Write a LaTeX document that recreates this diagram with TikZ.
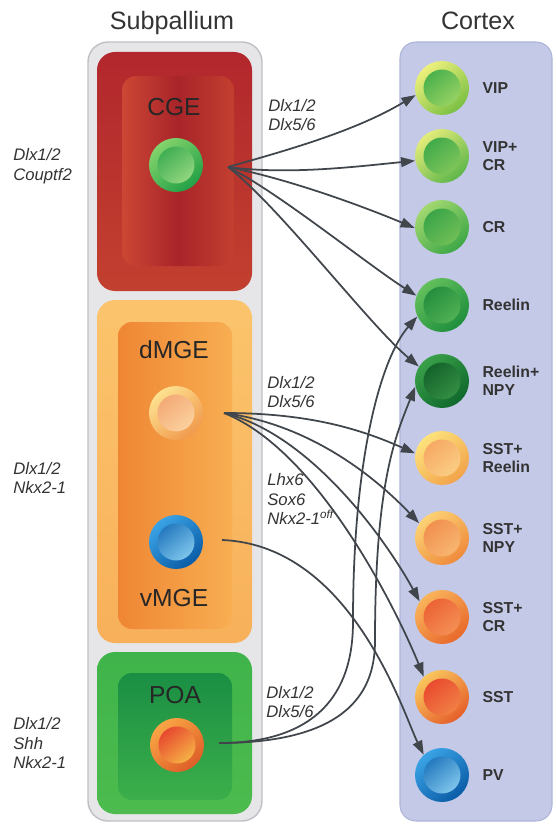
\documentclass[tikz,border=0pt]{standalone}
\usepackage{fontspec}
\setmainfont{Liberation Sans}
\usetikzlibrary{arrows.meta, positioning, calc}
% boxes
\definecolor{subGrayF}{HTML}{E6E6E8}
\definecolor{subGrayS}{HTML}{BFC0C4}
\definecolor{ctxBlueF}{HTML}{C4C9E7}
\definecolor{ctxBlueS}{HTML}{AEB4D9}
\definecolor{cgeRedA}{HTML}{B2272D}
\definecolor{cgeRedB}{HTML}{C2402F}
\definecolor{cgeRedC}{HTML}{CC4733}
\definecolor{cgeRedD}{HTML}{A8242A}
\definecolor{mgeOrgA}{HTML}{FBC46C}
\definecolor{mgeOrgB}{HTML}{F8B05A}
\definecolor{mgeOrgC}{HTML}{EF8634}
\definecolor{mgeOrgD}{HTML}{F8AE52}
\definecolor{poaGrnA}{HTML}{3FB44A}
\definecolor{poaGrnB}{HTML}{4DBB4E}
\definecolor{poaGrnC}{HTML}{1A8E43}
\definecolor{poaGrnD}{HTML}{3CAF4B}
\definecolor{arrowGray}{HTML}{41464C}
\definecolor{txtGray}{HTML}{333333}
% cells: rim light, rim dark, core dark, core light
\definecolor{vipA}{HTML}{EEF07C}\definecolor{vipB}{HTML}{79C043}
\definecolor{vipC}{HTML}{3BAA48}\definecolor{vipD}{HTML}{A8D968}
\definecolor{vcrA}{HTML}{E4EC7A}\definecolor{vcrB}{HTML}{5DB649}
\definecolor{vcrC}{HTML}{34A446}\definecolor{vcrD}{HTML}{8DCC5E}
\definecolor{crA}{HTML}{A3D870}\definecolor{crB}{HTML}{3CA746}
\definecolor{crC}{HTML}{2F9F45}\definecolor{crD}{HTML}{7CC55A}
\definecolor{relA}{HTML}{63C05C}\definecolor{relB}{HTML}{1E8E3C}
\definecolor{relC}{HTML}{1B8739}\definecolor{relD}{HTML}{5BB859}
\definecolor{rnpA}{HTML}{39A049}\definecolor{rnpB}{HTML}{0F682C}
\definecolor{rnpC}{HTML}{0D5A26}\definecolor{rnpD}{HTML}{3B9848}
\definecolor{srlA}{HTML}{FDE27C}\definecolor{srlB}{HTML}{F2A24A}
\definecolor{srlC}{HTML}{F5A25E}\definecolor{srlD}{HTML}{FCD48A}
\definecolor{snpA}{HTML}{FCD274}\definecolor{snpB}{HTML}{EF8A3B}
\definecolor{snpC}{HTML}{F08848}\definecolor{snpD}{HTML}{F9BE78}
\definecolor{scrA}{HTML}{F9B45A}\definecolor{scrB}{HTML}{E8682B}
\definecolor{scrC}{HTML}{EA5A2F}\definecolor{scrD}{HTML}{F6985A}
\definecolor{sstA}{HTML}{F9C65C}\definecolor{sstB}{HTML}{E65E2B}
\definecolor{sstC}{HTML}{E73F2A}\definecolor{sstD}{HTML}{F38C4A}
\definecolor{pvA}{HTML}{3AA3E6}\definecolor{pvB}{HTML}{0A5CA6}
\definecolor{pvC}{HTML}{1169B5}\definecolor{pvD}{HTML}{92D6F6}
\definecolor{cgeA}{HTML}{84D36C}\definecolor{cgeB}{HTML}{22A046}
\definecolor{cgeC}{HTML}{2FA54A}\definecolor{cgeD}{HTML}{A3DF88}
\definecolor{dmgA}{HTML}{FDE190}\definecolor{dmgB}{HTML}{F1994C}
\definecolor{dmgC}{HTML}{F2A26E}\definecolor{dmgD}{HTML}{FDD9A6}
\definecolor{poaA}{HTML}{F9A544}\definecolor{poaB}{HTML}{DE5E28}
\definecolor{poaC}{HTML}{E4312A}\definecolor{poaD}{HTML}{F9C94A}
\tikzset{
  >={Triangle[length=8pt, width=5.6pt]},
  flow/.style={->, line width=1pt, draw=arrowGray},
  cell/.style n args={4}{circle, inner sep=0pt, minimum size=1.08cm,
    top color=#1, bottom color=#2, shading angle=40,
    path picture={\shade[top color=#3, bottom color=#4, shading angle=40]
      (path picture bounding box.center) circle (0.37cm);}},
  celltxt/.style={right=0.14cm of #1, align=left, text=txtGray,
    font=\bfseries\fontsize{9}{10.5}\selectfont},
  gene/.style={anchor=west, align=left, inner sep=0pt, text=txtGray,
    font=\itshape\fontsize{9.5}{11.3}\selectfont},
  region/.style={font=\fontsize{14}{16}\selectfont, text=black!85},
  title/.style={anchor=base, font=\fontsize{14.3}{16}\selectfont, text=txtGray},
}
\begin{document}
\begin{tikzpicture}[x=0.02cm, y=-0.02cm]
  \useasboundingbox (0,0) rectangle (555,824);

  % ---- Boxes -------------------------------------------------------------
  \filldraw[rounded corners=0.4cm, fill=subGrayF, draw=subGrayS, line width=0.8pt]
    (88,42) rectangle (262,821);
  \filldraw[rounded corners=0.32cm, fill=ctxBlueF, draw=ctxBlueS, line width=0.6pt]
    (400,42) rectangle (552,821);
  \shade[rounded corners=0.36cm, top color=cgeRedA, bottom color=cgeRedB]
    (97,52) rectangle (252,291);
  \shade[rounded corners=0.28cm, left color=cgeRedC, right color=cgeRedB, middle color=cgeRedD]
    (122,76) rectangle (234,266);
  \shade[rounded corners=0.36cm, top color=mgeOrgA, bottom color=mgeOrgB]
    (97,300) rectangle (252,643);
  \shade[rounded corners=0.28cm, left color=mgeOrgC, right color=mgeOrgD]
    (118,322) rectangle (232,629);
  \shade[rounded corners=0.36cm, top color=poaGrnA, bottom color=poaGrnB]
    (97,652) rectangle (252,814);
  \shade[rounded corners=0.28cm, top color=poaGrnC, bottom color=poaGrnD]
    (118,673) rectangle (232,800);

  % ---- Titles and labels -------------------------------------------------
  \node[title] (tsub) at (172,30) {Subpallium};
  \node[title] (tctx) at (478,30) {Cortex};
  \node[region] (lcge)  at (174,107) {CGE};
  \node[region] (ldmge) at (174,350) {dMGE};
  \node[region] (lvmge) at (174,598) {vMGE};
  \node[region] (lpoa)  at (175,695) {POA};

  \node[gene] (gcge)  at (13,166) {Dlx1/2\\Couptf2};
  \node[gene] (gmge)  at (13,478) {Dlx1/2\\Nkx2-1};
  \node[gene] (gpoa)  at (13,743) {Dlx1/2\\Shh\\Nkx2-1};
  \node[gene] (gcge2) at (268,115) {Dlx1/2\\Dlx5/6};
  \node[gene] (gmge2) at (267,392) {Dlx1/2\\Dlx5/6};
  \node[gene] (gmge3) at (267,499) {Lhx6\\Sox6\\Nkx2-1\textsuperscript{off}};
  \node[gene] (gpoa2) at (266,702) {Dlx1/2\\Dlx5/6};

  % ---- Cells -------------------------------------------------------------
  \node[cell={cgeA}{cgeB}{cgeC}{cgeD}] (cge)  at (176,165) {};
  \node[cell={dmgA}{dmgB}{dmgC}{dmgD}] (dmge) at (176,413) {};
  \node[cell={pvA}{pvB}{pvC}{pvD}]     (vmge) at (176,542) {};
  \node[cell={poaA}{poaB}{poaC}{poaD}] (poa)  at (177,745) {};

  \node[cell={vipA}{vipB}{vipC}{vipD}] (vip)     at (442,88)  {};
  \node[cell={vcrA}{vcrB}{vcrC}{vcrD}] (vipcr)   at (442,156) {};
  \node[cell={crA}{crB}{crC}{crD}]     (cr)      at (442,227) {};
  \node[cell={relA}{relB}{relC}{relD}] (reelin)  at (442,305) {};
  \node[cell={rnpA}{rnpB}{rnpC}{rnpD}] (reelnpy) at (442,381) {};
  \node[cell={srlA}{srlB}{srlC}{srlD}] (sstreel) at (442,458) {};
  \node[cell={snpA}{snpB}{snpC}{snpD}] (sstnpy)  at (442,538) {};
  \node[cell={scrA}{scrB}{scrC}{scrD}] (sstcr)   at (442,617) {};
  \node[cell={sstA}{sstB}{sstC}{sstD}] (sst)     at (442,697) {};
  \node[cell={pvA}{pvB}{pvC}{pvD}]     (pv)      at (442,775) {};

  \node[celltxt=vip]     (tvip)     {VIP};
  \node[celltxt=vipcr]   (tvipcr)   {VIP+\\CR};
  \node[celltxt=cr]      (tcr)      {CR};
  \node[celltxt=reelin]  (treelin)  {Reelin};
  \node[celltxt=reelnpy] (treelnpy) {Reelin+\\NPY};
  \node[celltxt=sstreel] (tsstreel) {SST+\\Reelin};
  \node[celltxt=sstnpy]  (tsstnpy)  {SST+\\NPY};
  \node[celltxt=sstcr]   (tsstcr)   {SST+\\CR};
  \node[celltxt=sst]     (tsst)     {SST};
  \node[celltxt=pv]      (tpv)      {PV};

  % start points of the fans
  \coordinate (cgeo)  at (228,167);
  \coordinate (dmgeo) at (224,413);
  \coordinate (vmgeo) at (222,540);
  \coordinate (poao)  at (219,743);

  % ---- Edges -------------------------------------------------------------
  % CGE -> VIP, CR and Reelin types
  \draw[flow] (cgeo) .. controls +(60,-17) and +(-60,36) .. (vip.195);
  \draw[flow] (cgeo) .. controls +(60,8) and +(-60,6) .. (vipcr.190);
  \draw[flow] (cgeo) .. controls +(60,12) and +(-55,-23) .. (cr.182);
  \draw[flow] (cgeo) .. controls +(50,25) and +(-50,-32) .. (reelin.160);
  \draw[flow] (cgeo) .. controls +(50,38) and +(-50,-42) .. (reelnpy.148);

  % dMGE -> SST types ; vMGE -> PV
  \draw[flow] (dmgeo) .. controls +(90,0) and +(-50,-22) .. (sstreel.170);
  \draw[flow] (dmgeo) .. controls +(90,12) and +(-40,-42) .. (sstnpy.147);
  \draw[flow] (dmgeo) .. controls +(90,22) and +(-30,-55) .. (sstcr.145);
  \draw[flow] (dmgeo) .. controls +(100,40) and +(-20,-50) .. (sst.132);
  \draw[flow] (vmgeo) .. controls +(130,5) and +(-20,-40) .. (pv.132);

  % POA -> Reelin types, going up
  \draw[flow] (poao) .. controls +(125,0) and +(0,40) .. ++(134,-122)
    .. controls +(0,-168) and +(-35,40) .. (reelin.205);
  \draw[flow] (poao) .. controls +(135,0) and +(0,45) .. ++(156,-102)
    .. controls +(0,-158) and +(-20,50) .. (reelnpy.192);

\end{tikzpicture}
\end{document}
